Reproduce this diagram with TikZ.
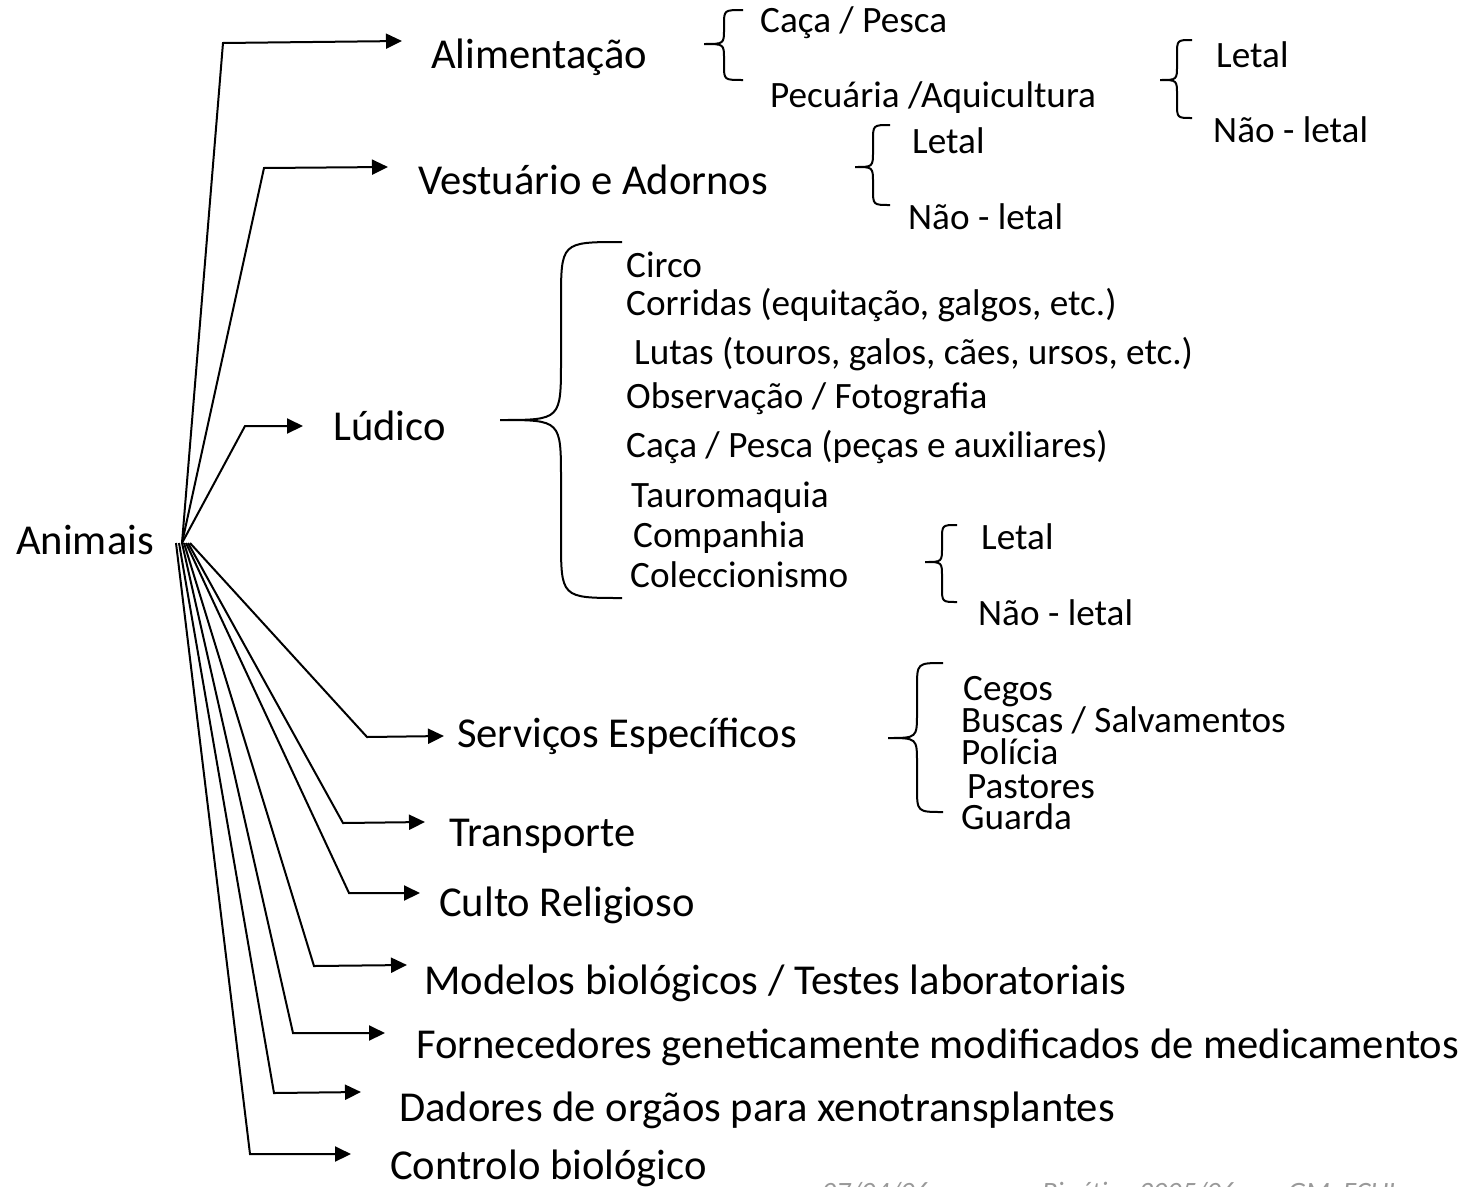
\documentclass[tikz,border=0pt]{standalone}
\usepackage{fontspec}
\setmainfont{Carlito}
\usetikzlibrary{arrows.meta}
\newcommand{\mybrc}[7]{%
  \draw[brc] (#1,#4) .. controls (#2,#4) .. (#2,#4+#7) -- (#2,#5-#7)
    .. controls (#2,#5) .. (#3,#5) .. controls (#2,#5) .. (#2,#5+#7)
    -- (#2,#6-#7) .. controls (#2,#6) .. (#1,#6);}
\begin{document}
\begin{tikzpicture}[x=1pt,y=-1pt,
  big/.style={font=\fontsize{42.6}{48}\selectfont, inner sep=0pt, anchor=base west},
  small/.style={font=\fontsize{37.2}{42}\selectfont, inner sep=0pt, anchor=base west},
  foot/.style={font=\fontsize{28}{32}\selectfont\itshape, text=black!40, inner sep=0pt, anchor=base west},
  conn/.style={line width=2pt, -{Triangle[length=16pt,width=15pt]}},
  brc/.style={line width=2pt}]
\useasboundingbox (0,0) rectangle (1463,1186);

% main labels
\node[big] (anim) at (16,554) {Animais};
\node[big] (alim) at (431,68) {Alimentação};
\node[big] (vest) at (418,194) {Vestuário e Adornos};
\node[big] (lud) at (333,440) {Lúdico};
\node[big] (serv) at (457,747) {Serviços Específicos};
\node[big] (transp) at (449,846) {Transporte};
\node[big] (culto) at (439,916) {Culto Religioso};
\node[big] (model) at (424,994) {Modelos biológicos / Testes laboratoriais};
\node[big] (forn) at (416,1058) {Fornecedores geneticamente modificados de medicamentos};
\node[big] (dad) at (399,1121) {Dadores de orgãos para xenotransplantes};
\node[big] (contr) at (390,1179) {Controlo biológico};

% sub labels
\node[small] (caca) at (760,32) {Caça / Pesca};
\node[small] (pecu) at (770,107) {Pecuária /Aquicultura};
\node[small] (let1) at (1216,67) {Letal};
\node[small] (nlet1) at (1213,142) {Não - letal};
\node[small] (let2) at (912,153) {Letal};
\node[small] (nlet2) at (908,229) {Não - letal};
\node[small] (circo) at (626,277) {Circo};
\node[small] (corr) at (626,315) {Corridas (equitação, galgos, etc.)};
\node[small] (lutas) at (634,364) {Lutas (touros, galos, cães, ursos, etc.)};
\node[small] (obs) at (626,408) {Observação / Fotografia};
\node[small] (caca2) at (626,457) {Caça / Pesca (peças e auxiliares)};
\node[small] (tauro) at (631,507) {Tauromaquia};
\node[small] (comp) at (633,547) {Companhia};
\node[small] (colec) at (630,587) {Coleccionismo};
\node[small] (let3) at (981,549) {Letal};
\node[small] (nlet3) at (978,625) {Não - letal};
\node[small] (cegos) at (963,700) {Cegos};
\node[small] (buscas) at (961,732) {Buscas / Salvamentos};
\node[small] (pol) at (961,764) {Polícia};
\node[small] (past) at (967,798) {Pastores};
\node[small] (guarda) at (961,829) {Guarda};

% footer (cut off)
\node[foot] (f1) at (822,1201) {07/04/06};
\node[foot] (f2) at (1042,1201) {Bioética 2005/06};
\node[foot] (f3) at (1288,1201) {GM, FCUL};

% connectors
\coordinate (hub) at (182,543);
\draw[conn] (hub) -- (223,43) -- (402,41);
\draw[conn] (hub) -- (264,168) -- (388,167);
\draw[conn] (hub) -- (245,426) -- (303,426);
\draw[conn] ([xshift=8pt]hub) -- (367,737) -- (444,736);
\draw[conn] ([xshift=6pt]hub) -- (343,823) -- (425,822);
\draw[conn] ([xshift=4pt]hub) -- (349,893) -- (420,893);
\draw[conn] ([xshift=2pt]hub) -- (314,966) -- (407,965);
\draw[conn] ([xshift=0pt]hub) -- (293,1033) -- (385,1033);
\draw[conn] ([xshift=-3pt]hub) -- (274,1093) -- (361,1092);
\draw[conn] ([xshift=-6pt]hub) -- (250,1154) -- (351,1154);

% braces
\mybrc{743}{724}{704}{10}{44}{80}{15}
\mybrc{1192}{1177}{1160}{40}{80}{118}{15}
\mybrc{890}{873}{855}{125}{167}{205}{16}
\mybrc{622}{561}{500}{242}{420}{598}{60}
\mybrc{957}{942}{925}{525}{562}{602}{15}
\mybrc{943}{917}{888}{663}{738}{812}{25}
\end{tikzpicture}
\end{document}
